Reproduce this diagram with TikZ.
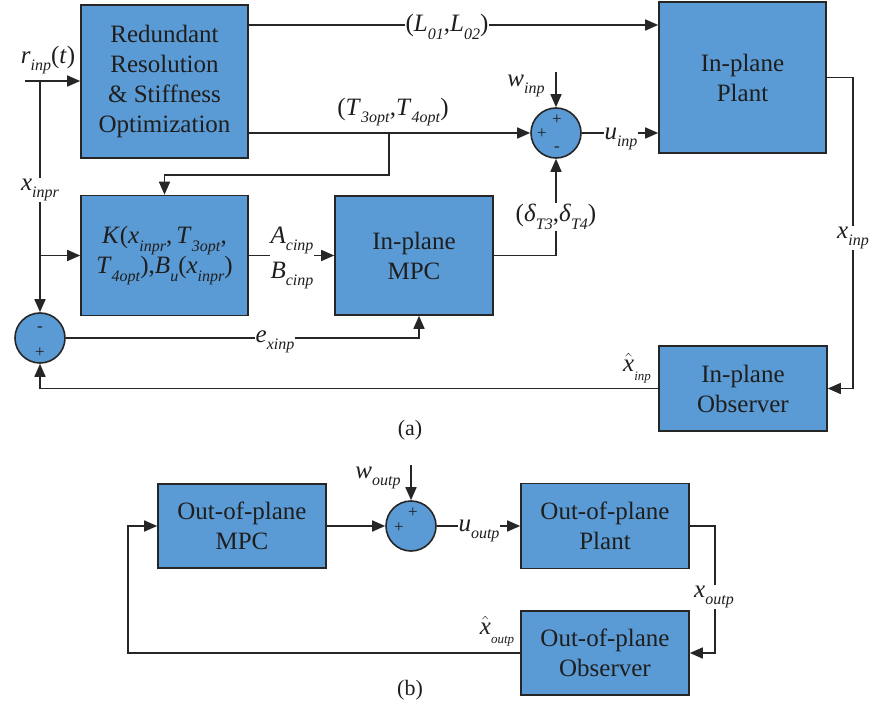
\documentclass[tikz,border=0pt]{standalone}
\usepackage{fontspec}
\IfFontExistsTF{LiberationSerif-Regular.ttf}
  {\setmainfont{LiberationSerif}[Extension=.ttf,UprightFont=*-Regular,ItalicFont=*-Italic,BoldFont=*-Bold,BoldItalicFont=*-BoldItalic]}
  {\setmainfont{Latin Modern Roman}}
\usetikzlibrary{arrows.meta,calc}
\definecolor{boxblue}{HTML}{5B9BD5}
\definecolor{edge}{HTML}{262626}
\definecolor{txt}{HTML}{1E1E1E}
\newcommand\vl[2]{\textit{#1}\raisebox{-0.3em}{\fontsize{16}{16}\selectfont\textit{#2}}}
\newcommand\hatx{$\hat{\mbox{\textit{x}}}$}
\newcommand\hl[1]{\hatx\raisebox{-0.35em}{\fontsize{13}{13}\selectfont\textit{#1}}}
\begin{document}
\begin{tikzpicture}[x=1pt,y=-1pt,
  blk/.style={draw=edge, fill=boxblue, line width=1.6pt, inner sep=0pt, align=center,
    font=\rmfamily\fontsize{25}{30}\selectfont, text=txt},
  sumc/.style={circle, draw=edge, fill=boxblue, line width=1.6pt, minimum size=50pt, inner sep=0pt},
  sig/.style={-{Triangle[length=13pt,width=11pt]}, line width=1.6pt, draw=edge},
  lbl/.style={font=\rmfamily\fontsize{25}{30}\selectfont, inner sep=1pt, text=txt},
  gap/.style={lbl, fill=white},
  sgn/.style={font=\rmfamily\fontsize{17}{17}\selectfont, inner sep=0pt, text=txt}]
\useasboundingbox (0,0) rectangle (874,708);

% ---------- (a) ----------
\node[blk, minimum width=167pt, minimum height=153pt] (rr) at (164.5,81.5) {Redundant\\Resolution\\\& Stiffness\\Optimization};
\node[blk, minimum width=167pt, minimum height=120pt] (k) at (164.5,255.5) {\textit{K}(\vl{x}{inpr},\,\vl{T}{3opt},\\\vl{T}{4opt}),\vl{B}{u}(\vl{x}{inpr})};
\node[blk, minimum width=158pt, minimum height=119pt] (mpc) at (414,255.5) {In-plane\\MPC};
\node[blk, minimum width=167pt, minimum height=151pt] (plant) at (742.5,77.5) {In-plane\\Plant};
\node[blk, minimum width=168pt, minimum height=85pt] (obs) at (743,388.5) {In-plane\\Observer};
\node[sumc] (s1) at (556,133) {};
\node[sumc] (s2) at (40,338) {};
\node[sgn] at ([shift={(1,-13)}]s1.center) {+};
\node[sgn] at ([shift={(-14,1)}]s1.center) {+};
\node[sgn] at ([shift={(1,16)}]s1.center) {-};
\node[sgn] at ([shift={(0,-9)}]s2.center) {-};
\node[sgn] at ([shift={(0,15)}]s2.center) {+};

\coordinate (rin) at (25,81);
\coordinate (br1) at (40,81);
\coordinate (br2) at (40,255.5);
\draw[sig] (rin) -- (rin -| rr.west);
\draw[sig] (br1) -- (s2.north);
\draw[sig] (br2) -- (k.west);
\draw[sig] (k.east) -- (mpc.west);
\draw[sig] (rr.east |- 0,25) -- (plant.west |- 0,25);
\draw[sig] (rr.east |- s1.west) -- (s1.west);
\coordinate (tb) at (389,133);
\draw[sig] (tb) -- (389,175) -- (k.north |- 0,175) -- (k.north);
\coordinate (win) at (556,72);
\draw[sig] (win) -- (s1.north);
\draw[sig] (s1.east) -- (s1.east -| plant.west);
\draw[sig] (mpc.east) -- (mpc.east -| s1.south) -- (s1.south);
\coordinate (ein) at ([xshift=5pt]mpc.south);
\draw[sig] (s2.east) -- (s2.east -| ein) -- (ein);
\draw[sig] (plant.east) -- (plant.east -| 853,0) -- (obs.east -| 853,0) -- (obs.east);
\draw[sig] (obs.west) -- (obs.west -| s2.south) -- (s2.south);

\node[lbl] at (48,60) {\vl{r}{inp}(\textit{t})};
\node[gap] at (40,190) {\vl{x}{inpr}};
\node[gap, align=left, font=\rmfamily\fontsize{25}{35}\selectfont] at (292,258) {\vl{A}{cinp}\\\vl{B}{cinp}};
\node[gap] at (447,27) {(\vl{L}{01},\vl{L}{02})};
\node[lbl] at (393,112) {(\vl{T}{3opt},\vl{T}{4opt})};
\node[lbl] at (526,86) {\vl{w}{inp}};
\node[gap] at (621,139) {\vl{u}{inp}};
\node[gap] at (556,217) {(\vl{δ}{T3},\vl{δ}{T4})};
\node[gap] at (275,342) {\vl{e}{xinp}};
\node[gap] at (853,238) {\vl{x}{inp}};
\node[lbl] at (637,368) {\hl{inp}};
\node[lbl, font=\rmfamily\fontsize{22}{22}\selectfont] (la) at (410,430) {(a)};

% ---------- (b) ----------
\node[blk, minimum width=168pt, minimum height=84pt] (omc) at (242,526) {Out-of-plane\\MPC};
\node[blk, minimum width=168pt, minimum height=85pt] (opl) at (605,526) {Out-of-plane\\Plant};
\node[blk, minimum width=168pt, minimum height=84pt] (oob) at (605,653) {Out-of-plane\\Observer};
\node[sumc] (s3) at (411,526) {};
\node[sgn] at ([shift={(2,-13)}]s3.center) {+};
\node[sgn] at ([shift={(-12,2)}]s3.center) {+};

\draw[sig] (omc.east) -- (s3.west);
\coordinate (wout) at (411,465);
\draw[sig] (wout) -- (s3.north);
\draw[sig] (s3.east) -- (opl.west);
\draw[sig] (opl.east) -- (opl.east -| 715,0) -- (oob.east -| 715,0) -- (oob.east);
\draw[sig] (oob.west) -- (oob.west -| 128,0) -- (omc.west -| 128,0) -- (omc.west);

\node[lbl] at (378,478) {\vl{w}{outp}};
\node[gap] at (479,531) {\vl{u}{outp}};
\node[gap] at (714,597) {\vl{x}{outp}};
\node[lbl] at (497,631) {\hl{outp}};
\node[lbl, font=\rmfamily\fontsize{22}{22}\selectfont] (lb) at (410,690) {(b)};
\end{tikzpicture}
\end{document}
